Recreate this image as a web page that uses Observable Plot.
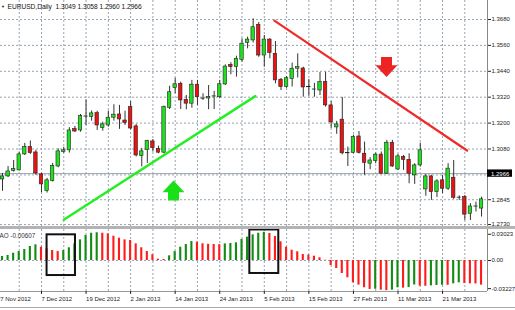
<!DOCTYPE html>
<html><head><meta charset="utf-8">
<script src="https://cdn.jsdelivr.net/npm/d3@7"></script>
<script src="https://cdn.jsdelivr.net/npm/@observablehq/plot@0.6"></script>
<style>
body{margin:0;background:#fff;}
#wrap{position:relative;width:515px;height:310px;overflow:hidden;background:#fff;font-family:"Liberation Sans",Arial,sans-serif;}
#wrap svg{position:absolute;left:0;overflow:visible;}
.sep{position:absolute;left:0;width:515px;}
</style></head><body><div id="wrap"></div>
<script>
// ---- data ----
const chartTitle = "EURUSD,Daily  1.3049 1.3058 1.2960 1.2966";
const aoTitle = "AO -0.00607";
const opens = [1.2939,1.2953,1.2978,1.2981,1.3055,1.3089,1.3064,1.2962,1.2885,1.2931,
1.2999,1.3067,1.3074,1.3172,1.3166,1.3231,1.3228,1.3246,1.3177,1.3189,
1.3225,1.3240,1.3212,1.3274,1.3185,1.3047,1.3075,1.3115,1.3081,1.3063,
1.3271,1.3362,1.3382,1.3308,1.3290,1.3378,1.3314,1.3314,1.3323,1.3320,
1.3379,1.3470,1.3459,1.3493,1.3572,1.3583,1.3655,1.3513,1.3587,1.3521,
1.3401,1.3368,1.3405,1.3452,1.3453,1.3367,1.3355,1.3351,1.3390,1.3282,
1.3180,1.3216,1.3061,1.3062,1.3138,1.3058,1.3012,1.3024,1.3054,1.2966,
1.3109,1.2985,1.3043,1.3030,1.2958,1.3004,1.2893,1.2953,1.2880,1.2935,
1.2896,1.2947,1.2854,1.2857,1.2780,1.2813,1.2804];
const highs = [1.2967,1.2999,1.3027,1.3066,1.3106,1.3117,1.3074,1.2968,1.2944,1.3013,
1.3081,1.3088,1.3179,1.3185,1.3240,1.3308,1.3256,1.3255,1.3204,1.3256,
1.3285,1.3282,1.3255,1.3300,1.3194,1.3083,1.3120,1.3124,1.3093,1.3279,
1.3371,1.3408,1.3390,1.3328,1.3398,1.3398,1.3336,1.3374,1.3347,1.3398,
1.3470,1.3480,1.3510,1.3591,1.3598,1.3683,1.3666,1.3606,1.3591,1.3578,
1.3407,1.3416,1.3478,1.3521,1.3459,1.3402,1.3384,1.3435,1.3436,1.3300,
1.3208,1.3319,1.3089,1.3144,1.3161,1.3112,1.3040,1.3061,1.3066,1.3120,
1.3120,1.3055,1.3050,1.3058,1.3012,1.3107,1.2962,1.2958,1.2938,1.2958,
1.3012,1.3027,1.2863,1.2865,1.2827,1.2834,1.2857];
const lows = [1.2884,1.2948,1.2973,1.2978,1.3050,1.3055,1.2958,1.2878,1.2876,1.2927,
1.2993,1.3060,1.3061,1.3157,1.3158,1.3189,1.3209,1.3166,1.3163,1.3181,
1.3209,1.3171,1.3189,1.3169,1.3043,1.2997,1.3013,1.3066,1.3058,1.3058,
1.3263,1.3336,1.3263,1.3262,1.3269,1.3282,1.3305,1.3262,1.3263,1.3313,
1.3374,1.3424,1.3413,1.3482,1.3544,1.3571,1.3505,1.3459,1.3498,1.3382,
1.3351,1.3361,1.3367,1.3409,1.3320,1.3324,1.3320,1.3328,1.3274,1.3175,
1.3148,1.3053,1.2999,1.3058,1.3057,1.2958,1.2984,1.3012,1.2962,1.2962,
1.2995,1.2981,1.2981,1.2919,1.2916,1.2996,1.2861,1.2842,1.2855,1.2874,
1.2888,1.2847,1.2842,1.2749,1.2749,1.2788,1.2765];
const closes = [1.2953,1.2976,1.2987,1.3055,1.3089,1.3061,1.2967,1.2916,1.2935,1.3001,
1.3069,1.3074,1.3166,1.3161,1.3232,1.3230,1.3245,1.3189,1.3194,1.3225,
1.3239,1.3217,1.3200,1.3175,1.3050,1.3069,1.3117,1.3084,1.3063,1.3274,
1.3343,1.3380,1.3305,1.3290,1.3378,1.3320,1.3313,1.3321,1.3324,1.3380,
1.3462,1.3459,1.3498,1.3568,1.3587,1.3644,1.3513,1.3587,1.3525,1.3398,
1.3367,1.3408,1.3452,1.3459,1.3365,1.3366,1.3356,1.3390,1.3282,1.3203,
1.3194,1.3060,1.3060,1.3135,1.3062,1.3016,1.3027,1.3054,1.2966,1.3109,
1.2999,1.3046,1.3030,1.2966,1.3004,1.3074,1.2953,1.2880,1.2930,1.2896,
1.2989,1.2854,1.2855,1.2776,1.2814,1.2814,1.2847];
const aoValues = [0.0043,0.0054,0.0078,0.0096,0.0118,0.0150,0.0168,0.0142,0.0125,0.0107,
0.0096,0.0107,0.0136,0.0178,0.0221,0.0268,0.0292,0.0297,0.0292,0.0285,
0.0260,0.0239,0.0221,0.0214,0.0178,0.0136,0.0096,0.0061,0.0014,0.0011,
0.0050,0.0096,0.0142,0.0171,0.0203,0.0196,0.0179,0.0174,0.0171,0.0169,
0.0178,0.0182,0.0189,0.0225,0.0250,0.0275,0.0292,0.0302,0.0289,0.0257,
0.0200,0.0142,0.0110,0.0093,0.0064,0.0059,0.0046,0.0029,0.0003,-0.0054,
-0.0086,-0.0139,-0.0185,-0.0239,-0.0264,-0.0292,-0.0310,-0.0308,-0.0318,-0.0323,
-0.0318,-0.0292,-0.0296,-0.0290,-0.0262,-0.0275,-0.0276,-0.0272,-0.0267,-0.0265,
-0.0266,-0.0250,-0.0239,-0.0246,-0.0250,-0.0251,-0.0264];
const dateTickIndex = [-1,7,15,23,31,39,47,55,63,71,79];
const dateTickLabels = ["27 Nov 2012","7 Dec 2012","19 Dec 2012","2 Jan 2013","14 Jan 2013","24 Jan 2013","5 Feb 2013","15 Feb 2013","27 Feb 2013","11 Mar 2013","21 Mar 2013"];
const priceTicks = [1.3680,1.3560,1.3440,1.3320,1.3200,1.3080,1.2845,1.2730];
const priceGrid = [1.3680,1.3560,1.3440,1.3320,1.3200,1.3080,1.2960,1.2845,1.2730];
const bidPrice = 1.2966;
const aoTopLabel = 0.03023, aoZeroLabel = 0, aoBottomLabel = -0.03227;
const supportLine = [{i:11.0,p:1.2752},{i:45.4,p:1.3325}];
const resistanceLine = [{i:48.8,p:1.3675},{i:83.4,p:1.3073}];
const upArrow = [{i:30.7,p:1.2888}];
const downArrow = [{i:68.94,p:1.3460}];
const aoBoxes = [{i1:8.0,i2:13.1,v1:0.0275,v2:-0.0161},{i1:44.4,i2:49.6,v1:0.0327,v2:-0.0139}];
const gridEvery = 4, gridStart = 3;

// ---- layout ----
const XR = [-0.359, 87.07];
const priceDomain = [1.2721, 1.3768];
const aoDomain = [-0.0332, 0.0332];
const gridColor = "#8d99a8";
const font = "Liberation Sans, Arial, sans-serif";
const candles = opens.map((o,i)=>({i,o,h:highs[i],l:lows[i],c:closes[i]}));
const aoData = aoValues.map((v,i)=>({i,v,up: i===0 || v>aoValues[i-1]}));
const gridX = d3.range(gridStart, 87, gridEvery);

function arrowSymbol(dir){
  const pts=[[0,-10],[11,1.7],[5.5,1.7],[5.5,10],[-5.5,10],[-5.5,1.7],[-11,1.7]];
  return {draw(ctx,size){
    const k=Math.sqrt(size/Math.PI)/11;
    pts.forEach((p,j)=>{const x=p[0]*k,y=p[1]*k*dir; j?ctx.lineTo(x,y):ctx.moveTo(x,y);});
    ctx.closePath();
  }};
}

const main = Plot.plot({
  width:515, height:227, marginTop:0, marginBottom:1, marginLeft:0, marginRight:28,
  style:{fontFamily:font, fontSize:"6px", background:"transparent", color:"#222", overflow:"visible"},
  x:{domain:XR, axis:null}, y:{domain:priceDomain},
  marks:[
    Plot.ruleX(gridX,{stroke:gridColor,strokeDasharray:"2,2",strokeWidth:0.9}),
    Plot.ruleY(priceGrid,{stroke:gridColor,strokeDasharray:"2,2",strokeWidth:0.9}),
    Plot.ruleY([bidPrice],{stroke:"#9aa2ac",strokeWidth:1}),
    Plot.ruleX(candles,{x:"i",y1:"l",y2:"h",stroke:"#333",strokeWidth:1}),
    Plot.rect(candles,{x1:d=>d.i-0.31,x2:d=>d.i+0.31,y1:"o",y2:"c",
      fill:d=>d.c>=d.o?"#1ee21e":"#ec1212",stroke:"#222",strokeWidth:0.6}),
    Plot.line(supportLine,{x:"i",y:"p",stroke:"#25ee25",strokeWidth:2.4}),
    Plot.line(resistanceLine,{x:"i",y:"p",stroke:"#ee2a2a",strokeWidth:2.2}),
    Plot.dot(upArrow,{x:"i",y:"p",r:11,symbol:arrowSymbol(1),fill:"#19e019",stroke:"none"}),
    Plot.dot(downArrow,{x:"i",y:"p",r:11,symbol:arrowSymbol(-1),fill:"#ee2424",stroke:"none"}),
    Plot.ruleX([XR[1]],{stroke:"#888",strokeWidth:1}),
    Plot.axisY({ticks:priceTicks,anchor:"right",tickSize:3,tickPadding:1,tickFormat:d=>d.toFixed(4),fontSize:6,fill:"#222"}),
    Plot.rect([bidPrice],{x1:XR[1],x2:XR[1]+25/5.57,y1:d=>d+0.0017,y2:d=>d-0.0017,fill:"#000"}),
    Plot.text([bidPrice],{y:d=>d,frameAnchor:"right",dx:3.5,textAnchor:"start",text:d=>d.toFixed(4),fill:"#fff",fontSize:6}),
    Plot.text([chartTitle],{frameAnchor:"top-left",dx:7,dy:6,lineAnchor:"middle",textAnchor:"start",fontSize:6.6,fill:"#111"}),
    Plot.text(["\u25BC"],{frameAnchor:"top-left",dx:0.5,dy:6,lineAnchor:"middle",textAnchor:"start",fontSize:4,fill:"#222"})
  ]
});
main.style.top = "0px";

const ao = Plot.plot({
  width:515, height:84, marginTop:3, marginBottom:19, marginLeft:0, marginRight:28,
  style:{fontFamily:font, fontSize:"6px", background:"transparent", color:"#222", overflow:"visible"},
  x:{domain:XR}, y:{domain:aoDomain},
  marks:[
    Plot.ruleX(gridX,{stroke:gridColor,strokeDasharray:"2,2",strokeWidth:0.9}),
    Plot.ruleY([0],{stroke:gridColor,strokeDasharray:"2,2",strokeWidth:0.9}),
    Plot.rect(aoData,{x1:d=>d.i-0.19,x2:d=>d.i+0.19,y1:0,y2:"v",fill:d=>d.up?"#148c14":"#ff1c1c"}),
    Plot.rect(aoBoxes,{x1:"i1",x2:"i2",y1:"v1",y2:"v2",fill:"none",stroke:"#111",strokeWidth:2}),
    Plot.ruleX([XR[1]],{stroke:"#888",strokeWidth:1}),
    Plot.ruleY([aoDomain[0]],{stroke:"#999",strokeWidth:1}),
    Plot.axisY({ticks:[aoTopLabel],anchor:"right",tickSize:3,tickPadding:1,dy:2,tickFormat:d=>d.toFixed(5),fontSize:6}),
    Plot.axisY({ticks:[aoZeroLabel],anchor:"right",tickSize:3,tickPadding:1,tickFormat:()=>"0.00",fontSize:6}),
    Plot.axisY({ticks:[aoBottomLabel],anchor:"right",tickSize:3,tickPadding:1,dy:-2,tickFormat:d=>d.toFixed(5),fontSize:6}),
    Plot.axisX({ticks:dateTickIndex,anchor:"bottom",tickSize:3,tickPadding:2,textAnchor:"start",dx:0,
      tickFormat:d=>dateTickLabels[dateTickIndex.indexOf(d)],fontSize:6}),
    Plot.text([aoTitle],{frameAnchor:"top-left",dx:-1,dy:6,lineAnchor:"middle",textAnchor:"start",fontSize:6.3,fill:"#333"})
  ]
});
ao.style.top = "226px";

const wrap = document.getElementById("wrap");
wrap.appendChild(main);
wrap.appendChild(ao);
const sep = document.createElement("div");
sep.className="sep"; sep.style.top="226px"; sep.style.height="3px"; sep.style.background="#b4b4b4";
wrap.appendChild(sep);
const bot = document.createElement("div");
bot.className="sep"; bot.style.top="307px"; bot.style.height="1px"; bot.style.background="#a8a8a8";
wrap.appendChild(bot);
</script></body></html>
